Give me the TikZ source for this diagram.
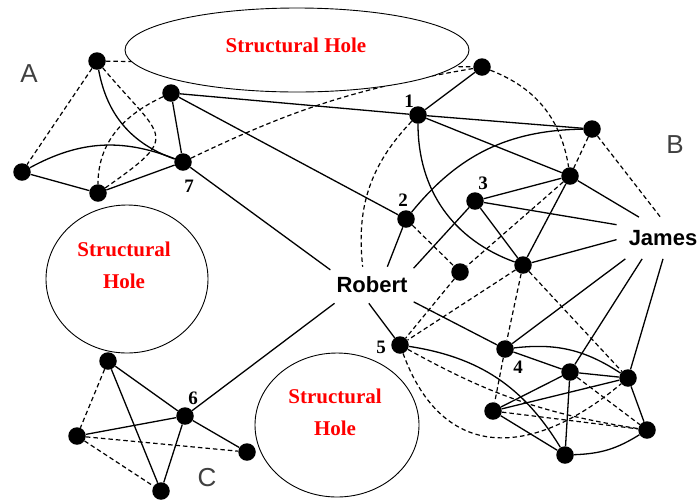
\documentclass[tikz,border=0pt]{standalone}
\usepackage{fontspec}
\setmainfont{Liberation Serif}
\setsansfont{Liberation Sans}
\usepackage{xcolor}
\usepackage{tikz}
\usetikzlibrary{shapes.geometric}

\begin{document}
\begin{tikzpicture}[
    x=1pt, y=-1pt,
    actor/.style={circle, fill=black, inner sep=0pt, minimum size=17.5pt},
    tie/.style={line width=1.3pt, black},
    weak/.style={line width=1.2pt, black, dash pattern=on 4.5pt off 3pt},
    hole/.style={draw, ellipse, line width=0.9pt, fill=white, inner sep=0pt},
    holetext/.style={align=center, text=red, font=\fontsize{21}{32}\selectfont\bfseries},
    person/.style={font=\sffamily\bfseries\fontsize{22}{26}\selectfont, inner xsep=6pt, inner ysep=10pt},
    num/.style={font=\fontsize{19}{22}\selectfont\bfseries, inner sep=0pt},
    grp/.style={font=\sffamily\fontsize{26}{30}\selectfont, text=black!75, inner sep=0pt}]
  \useasboundingbox (0,0) rectangle (700,499);
  % group A
  \node[actor] (a1) at (97,61) {};
  \node[actor] (a2) at (171,93) {};
  \node[actor] (a3) at (22,172) {};
  \node[actor] (a4) at (98,193) {};
  \node[actor] (n7) at (183,162) {};
  % group B
  \node[actor] (n1) at (418,115) {};
  \node[actor] (b0) at (482,67) {};
  \node[actor] (b1) at (592,129) {};
  \node[actor] (b2) at (570,176) {};
  \node[actor] (n3) at (475,201) {};
  \node[actor] (n2) at (406,219) {};
  \node[actor] (bm) at (460,272) {};
  \node[actor] (bj) at (523,265) {};
  \node[actor] (n5) at (400,345) {};
  \node[actor] (n4) at (505,349) {};
  \node[actor] (d1) at (570,372) {};
  \node[actor] (d2) at (628,378) {};
  \node[actor] (d3) at (493,411) {};
  \node[actor] (d4) at (647,430) {};
  \node[actor] (d5) at (565,455) {};
  % group C
  \node[actor] (c1) at (108,361) {};
  \node[actor] (n6) at (185,416) {};
  \node[actor] (c2) at (77,436) {};
  \node[actor] (c3) at (247,452) {};
  \node[actor] (c4) at (161,491) {};
  \node[person] (robert) at (372,285) {Robert};
  \node[person, inner xsep=12pt, inner ysep=13pt] (james) at (663,238) {James};
  \node[num] (l1) at (409,101) {1};
  \node[num] (l2) at (403,200) {2};
  \node[num] (l3) at (483,183) {3};
  \node[num] (l4) at (518,367) {4};
  \node[num] (l5) at (381,347) {5};
  \node[num] (l6) at (193,398) {6};
  \node[num] (l7) at (189,186) {7};
  \node[grp] (ga) at (29,74) {A};
  \node[grp] (gb) at (675,145) {B};
  \node[grp] (gc) at (207,478) {C};
  % ties in A
  \draw[weak] (a1) -- (a3);
  \draw[tie] (a1) to[bend right=30] (n7);
  \draw[weak] (a1) to[out=-50, in=35, looseness=2] (a4);
  \draw[weak] (a2) to[out=-155, in=90] (a4);
  \draw[tie] (a2) -- (n7);
  \draw[tie] (a3) to[bend left=25] (n7);
  \draw[tie] (a3) -- (a4);
  \draw[tie] (a4) -- (n7);
  \draw[weak] (a1) -- (b0);
  \draw[weak] (n7) to[bend left=8] (b0);
  \draw[tie] (a2) -- (n1);
  \draw[tie] (a2) -- (n2);
  \draw[tie] (n7) -- (robert.160);
  % ties in B
  \draw[tie] (b0) -- (n1);
  \draw[weak] (b0) to[bend left=30] (b2);
  \draw[tie] (n1) -- (b1);
  \draw[tie] (n2) to[bend left=25] (b1);
  \draw[tie] (n1) -- (b2);
  \draw[weak] (n1) to[bend right=25] (robert.117);
  \draw[tie] (n1) to[bend right=35] (bj);
  \draw[tie] (n2) -- (robert.50);
  \draw[weak] (n2) -- (bm);
  \draw[tie] (n3) -- (robert.22);
  \draw[tie] (n3) -- (b2);
  \draw[tie] (n3) -- (james.164);
  \draw[tie] (n3) -- (bj);
  \draw[weak] (b2) -- (bm);
  \draw[tie] (b2) -- (bj);
  \draw[tie] (b2) -- (james.139);
  \draw[weak] (b1) -- (james.97);
  \draw[weak] (b1) -- (b2);
  \draw[tie] (bj) -- (james.182);
  \draw[weak] (bj) -- (n5);
  \draw[weak] (bm) -- (n5);
  \draw[weak] (bj) -- (n4);
  \draw[weak] (bj) -- (d2);
  \draw[tie] (james.209) -- (n4);
  \draw[tie] (james.225) -- (d1);
  \draw[tie] (james.270) -- (d2);
  \draw[tie] (robert.260) -- (n5);
  \draw[tie] (robert.338) -- (n4);
  \draw[tie] (robert.206) -- (n6);
  % lower cluster
  \draw[tie] (n5) to[bend left=25] (d5);
  \draw[weak] (n5) to[bend right=10] (d4);
  \draw[weak] (n5) to[out=-70, in=-140, looseness=1.35] (d2);
  \draw[tie] (n4) -- (d1);
  \draw[tie] (n4) to[bend left=20] (d2);
  \draw[weak] (n4) -- (d3);
  \draw[tie] (d1) -- (d2);
  \draw[tie] (d1) -- (d3);
  \draw[tie] (d1) -- (d5);
  \draw[weak] (d1) -- (d4);
  \draw[tie] (d2) -- (d3);
  \draw[tie] (d2) -- (d4);
  \draw[weak] (d3) -- (d4);
  \draw[tie] (d3) -- (d5);
  \draw[tie] (d5) to[bend right=15] (d4);
  % ties in C
  \draw[tie] (c1) -- (n6);
  \draw[tie] (c1) -- (c4);
  \draw[weak] (c1) -- (c2);
  \draw[tie] (c2) -- (n6);
  \draw[weak] (c2) -- (c3);
  \draw[weak] (c2) -- (c4);
  \draw[tie] (n6) -- (c3);
  \draw[tie] (n6) -- (c4);
  % structural holes
  \node[hole, minimum width=344pt, minimum height=84pt] (holetop) at (297,50) {};
  \node[hole, minimum width=162pt, minimum height=148pt] (holeleft) at (127,279) {};
  \node[hole, minimum width=164pt, minimum height=144pt] (holebottom) at (337,425) {};
  \node[holetext] (txttop) at (296,45) {Structural Hole};
  \node[holetext] (txtleft) at (124,265) {Structural\\Hole};
  \node[holetext] (txtbottom) at (335,412) {Structural\\Hole};
\end{tikzpicture}
\end{document}
